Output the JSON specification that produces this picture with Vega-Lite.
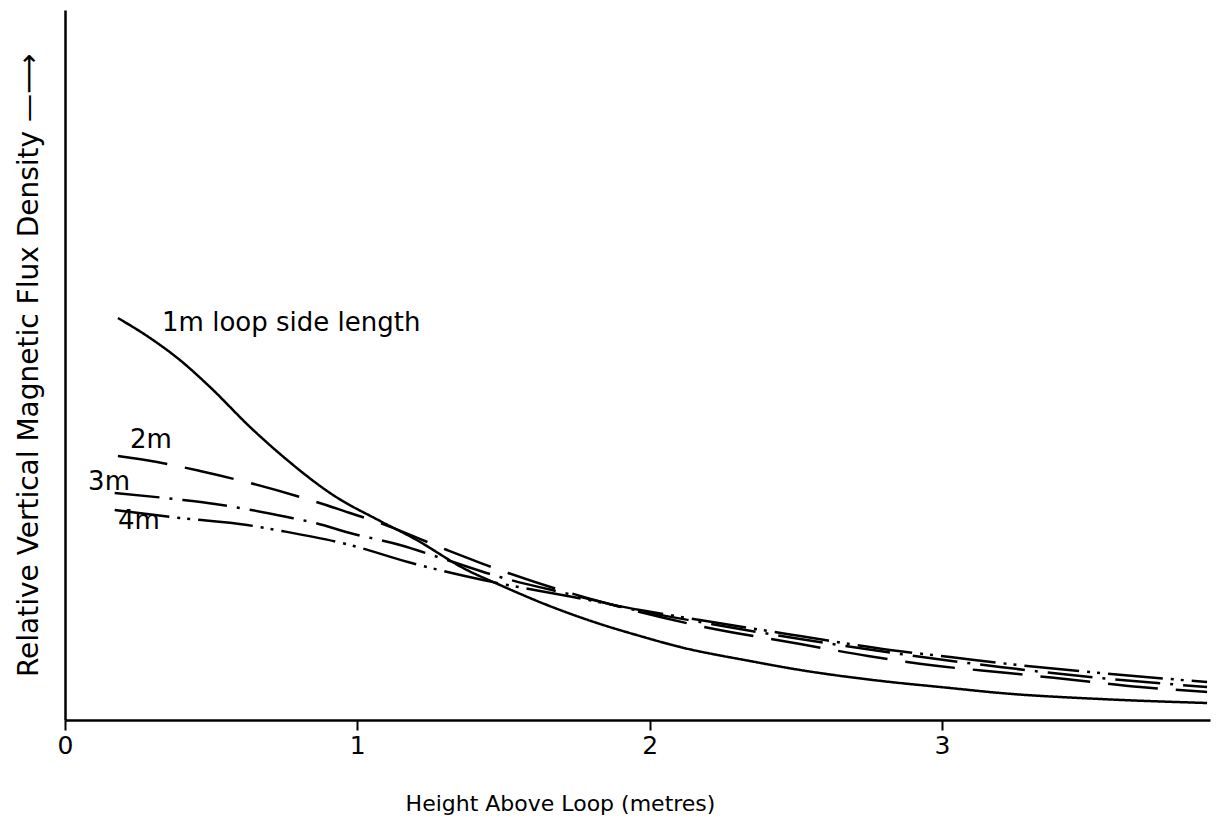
{
  "$schema": "https://vega.github.io/schema/vega-lite/v6.json",
  "width": 1145,
  "height": 710,
  "autosize": "none",
  "padding": {"left": 65, "top": 10, "right": 7, "bottom": 107},
  "background": "white",
  "config": {"view": {"stroke": null}, "font": "DejaVu Sans"},
  "datasets": {
    "curves": [
      {"loop": "1m", "h": 0.181, "v": 402}, {"loop": "1m", "h": 0.291, "v": 382}, {"loop": "1m", "h": 0.393, "v": 360}, {"loop": "1m", "h": 0.496, "v": 333}, {"loop": "1m", "h": 0.633, "v": 293}, {"loop": "1m", "h": 0.760, "v": 260}, {"loop": "1m", "h": 0.917, "v": 225}, {"loop": "1m", "h": 1.078, "v": 199}, {"loop": "1m", "h": 1.191, "v": 182}, {"loop": "1m", "h": 1.375, "v": 150}, {"loop": "1m", "h": 1.488, "v": 135}, {"loop": "1m", "h": 1.649, "v": 115}, {"loop": "1m", "h": 1.820, "v": 97}, {"loop": "1m", "h": 1.967, "v": 84}, {"loop": "1m", "h": 2.104, "v": 73}, {"loop": "1m", "h": 2.343, "v": 59}, {"loop": "1m", "h": 2.515, "v": 50}, {"loop": "1m", "h": 2.764, "v": 40}, {"loop": "1m", "h": 3.028, "v": 32}, {"loop": "1m", "h": 3.199, "v": 27}, {"loop": "1m", "h": 3.541, "v": 21}, {"loop": "1m", "h": 3.907, "v": 17},
      {"loop": "2m", "h": 0.181, "v": 264}, {"loop": "2m", "h": 0.315, "v": 258}, {"loop": "2m", "h": 0.462, "v": 249}, {"loop": "2m", "h": 0.633, "v": 237}, {"loop": "2m", "h": 0.838, "v": 220}, {"loop": "2m", "h": 0.975, "v": 207}, {"loop": "2m", "h": 1.078, "v": 197}, {"loop": "2m", "h": 1.307, "v": 170}, {"loop": "2m", "h": 1.516, "v": 147}, {"loop": "2m", "h": 1.728, "v": 127}, {"loop": "2m", "h": 1.967, "v": 108}, {"loop": "2m", "h": 2.172, "v": 94}, {"loop": "2m", "h": 2.515, "v": 76}, {"loop": "2m", "h": 2.747, "v": 64}, {"loop": "2m", "h": 2.987, "v": 54}, {"loop": "2m", "h": 3.226, "v": 47}, {"loop": "2m", "h": 3.483, "v": 39}, {"loop": "2m", "h": 3.678, "v": 33}, {"loop": "2m", "h": 3.907, "v": 28},
      {"loop": "3m", "h": 0.17, "v": 227}, {"loop": "3m", "h": 0.404, "v": 220}, {"loop": "3m", "h": 0.513, "v": 216}, {"loop": "3m", "h": 0.760, "v": 203}, {"loop": "3m", "h": 0.855, "v": 197}, {"loop": "3m", "h": 0.975, "v": 187}, {"loop": "3m", "h": 1.146, "v": 175}, {"loop": "3m", "h": 1.317, "v": 159}, {"loop": "3m", "h": 1.488, "v": 143}, {"loop": "3m", "h": 1.738, "v": 125}, {"loop": "3m", "h": 1.967, "v": 109}, {"loop": "3m", "h": 2.172, "v": 98}, {"loop": "3m", "h": 2.515, "v": 81}, {"loop": "3m", "h": 2.857, "v": 66}, {"loop": "3m", "h": 3.199, "v": 53}, {"loop": "3m", "h": 3.541, "v": 42}, {"loop": "3m", "h": 3.907, "v": 33},
      {"loop": "4m", "h": 0.17, "v": 210}, {"loop": "4m", "h": 0.393, "v": 202}, {"loop": "4m", "h": 0.623, "v": 195}, {"loop": "4m", "h": 0.742, "v": 189}, {"loop": "4m", "h": 0.975, "v": 175}, {"loop": "4m", "h": 1.173, "v": 158}, {"loop": "4m", "h": 1.430, "v": 140}, {"loop": "4m", "h": 1.738, "v": 123}, {"loop": "4m", "h": 1.967, "v": 110}, {"loop": "4m", "h": 2.172, "v": 100}, {"loop": "4m", "h": 2.515, "v": 84}, {"loop": "4m", "h": 2.822, "v": 70}, {"loop": "4m", "h": 3.028, "v": 63}, {"loop": "4m", "h": 3.199, "v": 57}, {"loop": "4m", "h": 3.541, "v": 47}, {"loop": "4m", "h": 3.907, "v": 38}
    ],
    "labels": [
      {"text": "1m loop side length", "h": 0.332, "v": 397},
      {"text": "2m", "h": 0.222, "v": 280},
      {"text": "3m", "h": 0.079, "v": 238},
      {"text": "4m", "h": 0.181, "v": 199}
    ]
  },
  "layer": [
    {
      "data": {"name": "curves"},
      "mark": {"type": "line", "color": "black", "strokeWidth": 2.5, "interpolate": "monotone"},
      "encoding": {
        "x": {
          "field": "h", "type": "quantitative",
          "scale": {"domain": [0, 3.917], "nice": false, "zero": false},
          "axis": {
            "values": [0, 1, 2, 3], "format": "d", "grid": false,
            "domainColor": "black", "domainWidth": 2.5,
            "tickColor": "black", "tickWidth": 2, "tickSize": 10,
            "labelFontSize": 25, "labelColor": "black", "labelPadding": 3, "labelFlush": false,
            "title": "Height Above Loop (metres)", "titleFontSize": 22,
            "titleFontWeight": "normal", "titleColor": "black",
            "titleX": 495, "titleY": 73, "titleAlign": "center", "titleBaseline": "top"
          }
        },
        "y": {
          "field": "v", "type": "quantitative",
          "scale": {"domain": [0, 710], "nice": false},
          "axis": {
            "ticks": false, "labels": false, "grid": false,
            "domainColor": "black", "domainWidth": 2.5,
            "title": "Relative Vertical Magnetic Flux Density —⟶",
            "titleFontSize": 28, "titleFontWeight": "normal", "titleColor": "black",
            "titlePadding": 22
          }
        },
        "strokeDash": {
          "field": "loop", "type": "nominal",
          "scale": {"domain": ["1m", "2m", "3m", "4m"], "range": [[1, 0], [50, 18], [45, 10, 3, 10], [55, 8, 3, 7, 3, 8]]},
          "legend": null
        }
      }
    },
    {
      "data": {"name": "labels"},
      "mark": {"type": "text", "align": "left", "baseline": "middle", "fontSize": 26, "color": "black"},
      "encoding": {
        "x": {"field": "h", "type": "quantitative"},
        "y": {"field": "v", "type": "quantitative"},
        "text": {"field": "text"}
      }
    }
  ]
}
